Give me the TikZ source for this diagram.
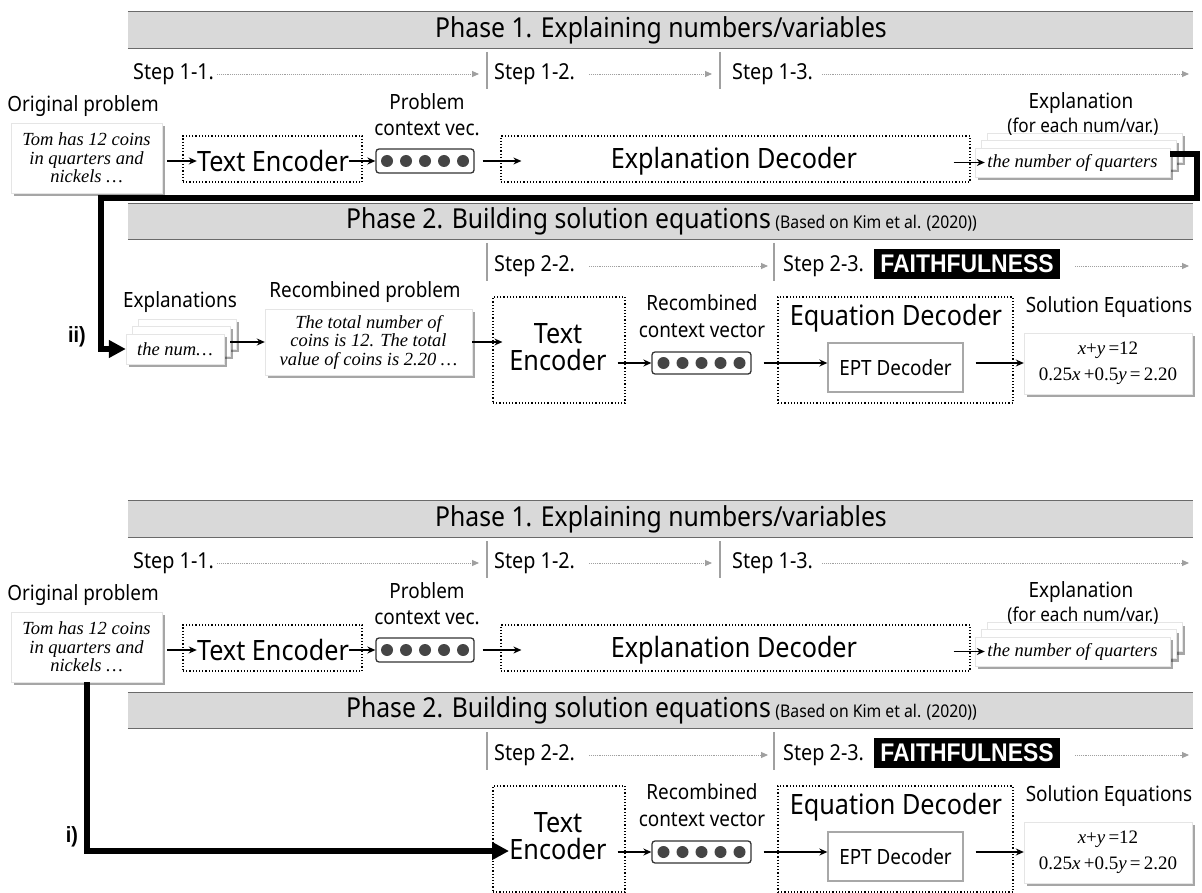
\documentclass[tikz,border=0pt]{standalone}
\usepackage{fontspec}
\setmainfont{Noto Sans}[FakeStretch=0.9]
\newfontfamily\tnr{Liberation Serif}
\newfontfamily\boldsans{Liberation Sans}[FakeStretch=0.9]
\usetikzlibrary{arrows.meta,shadows,calc}
\definecolor{barfill}{HTML}{D9D9D9}
\definecolor{barline}{HTML}{6A6A6A}
\definecolor{stepgray}{HTML}{A0A0A0}
\definecolor{dotdark}{HTML}{454545}
\definecolor{eptgray}{HTML}{A8A8A8}

\tikzset{
  fs/.style 2 args={font=\fontsize{#1}{#2}\selectfont},
  bar/.style={fill=barfill, minimum width=1065pt, minimum height=36pt, inner sep=0pt},
  barrule/.style={draw=barline, line width=1.3pt},
  lbl/.style={inner sep=0pt, fs={21}{26}, align=center},
  big/.style={inner sep=0pt, fs={28}{27}, align=center},
  stepl/.style={inner sep=0pt, anchor=west, fs={22}{24}},
  steparr/.style={stepgray, densely dotted, line width=0.9pt, -{Triangle[length=7pt,width=6pt]}},
  stepbar/.style={stepgray, line width=1.2pt},
  dotbox/.style={draw, dotted, line width=1.2pt, inner sep=0pt},
  flow/.style={line width=1.3pt, -{Stealth[length=8pt,width=7pt]}},
  paper/.style={fill=white, draw=black!10, inner sep=0pt, drop shadow={shadow xshift=3pt, shadow yshift=-3pt, opacity=0.35, fill=black}},
  vecbox/.style={draw=black!80, rounded corners=3pt, line width=1.3pt, inner sep=0pt},
  vdot/.style={circle, fill=dotdark, minimum size=12pt, inner sep=0pt},
  bigloop/.style={line width=6pt, -{Triangle[length=17pt,width=17pt]}},
  serifit/.style={font=\tnr\itshape\fontsize{18.5}{18.5}\selectfont, align=center},
  eqtext/.style={font=\tnr\fontsize{19}{26}\selectfont, align=center, inner sep=0pt},
  faith/.style={fill=black, text=white, font=\boldsans\bfseries\fontsize{25.5}{28}\selectfont, minimum width=186pt, minimum height=30pt, inner sep=0pt},
  roman/.style={font=\boldsans\bfseries\fontsize{22}{24}\selectfont, inner sep=0pt},
  eptbox/.style={draw=eptgray, line width=1.3pt, inner sep=0pt, fs={21}{24}},
}

\newcommand{\PhaseOneRow}{%
  \node[bar] (bar1) at (660.5,30) {};
  \draw[barrule] (bar1.north west) -- (bar1.north east);
  \draw[barrule] (bar1.south west) -- (bar1.south east);
  \node[inner sep=0pt, fs={27.5}{30}] (ph1) at (661,30) {Phase 1. Explaining numbers/variables};
  \node[stepl] (s11) at (133,74) {Step 1-1.};
  \node[stepl] (s12) at (494,74) {Step 1-2.};
  \node[stepl] (s13) at (732,74) {Step 1-3.};
  \draw[stepbar] (487,52) -- (487,89);
  \draw[stepbar] (720,52) -- (720,89);
  \coordinate (a11s) at (217,74); \coordinate (a11e) at (479,74);
  \coordinate (a12s) at (589,74); \coordinate (a12e) at (712,74);
  \coordinate (a13s) at (822,74); \coordinate (a13e) at (1189,74);
  \draw[steparr] (a11s) -- (a11e);
  \draw[steparr] (a12s) -- (a12e);
  \draw[steparr] (a13s) -- (a13e);
  \node[lbl] (oplab) at (83,106) {Original problem};
  \node[paper, serifit, minimum width=151pt, minimum height=70pt] (orig) at (86.5,158) {Tom has 12 coins\\in quarters and\\nickels …};
  \node[dotbox, minimum width=179pt, minimum height=46pt] (te1) at (272.5,159) {};
  \node[big] (te1t) at (273,161) {Text Encoder};
  \draw[flow] ($(orig.east |- te1t.west)+(5,0)$) -- (te1t.west);
  \node[vecbox, minimum width=98pt, minimum height=24pt] (vec1) at (425,161) {};
  \foreach \i [count=\k] in {-2,...,2} \node[vdot] (vec1d\k) at ($(vec1)+(\i*19,0)$) {};
  \node[lbl, fs={21}{26}] (pclab) at (427,115) {Problem\\context vec.};
  \draw[flow] (te1t.east) -- (vec1.west);
  \node[dotbox, minimum width=469pt, minimum height=46pt] (ed1) at (735.5,159) {};
  \node[big] (ed1t) at (734,161) {Explanation Decoder};
  \draw[flow] ($(vec1.east)+(8,0)$) -- ($(vec1.east -| ed1.west)+(21,0)$);
  \node[paper, minimum width=195pt, minimum height=29pt] (exback) at (1084.5,148) {};
  \node[paper, minimum width=195pt, minimum height=29pt] (exmid) at (1078.5,155) {};
  \node[paper, serifit, minimum width=195pt, minimum height=29pt] (exfront) at (1072.5,162.5) {the number of quarters};
  \node[lbl] (explab) at (1081,103) {Explanation};
  \node[inner sep=0pt, fs={19}{21}] (explab2) at (1083,127) {(for each num/var.)};
  \draw[flow] ($(ed1.east |- exfront.west)+(-17,0)$) -- ($(exfront.west)+(10,0)$);
}

\newcommand{\PhaseTwoRow}{%
  \node[bar, minimum height=35pt] (bar2) at (660.5,221.5) {};
  \draw[barrule] (bar2.north west) -- (bar2.north east);
  \draw[barrule] (bar2.south west) -- (bar2.south east);
  \node[inner sep=0pt] (ph2) at (661.5,221) {\fontsize{27.5}{30}\selectfont Phase 2. Building solution equations\,\fontsize{17.5}{20}\selectfont(Based on Kim et al. (2020))};
  \draw[stepbar] (487,243) -- (487,281);
  \draw[stepbar] (774,243) -- (774,281);
  \node[stepl] (s22) at (494,266) {Step 2-2.};
  \node[stepl] (s23) at (783,266) {Step 2-3.};
  \node[faith] (faith) at (967,264) {FAITHFULNESS};
  \coordinate (a22s) at (589,266); \coordinate (a22e) at (768,266);
  \coordinate (a23s) at (1075,266); \coordinate (a23e) at (1189,266);
  \draw[steparr] (a22s) -- (a22e);
  \draw[steparr] (a23s) -- (a23e);
  \node[dotbox, minimum width=132pt, minimum height=106pt] (te2) at (559,350) {};
  \node[big] (te2t) at (558,347) {Text\\Encoder};
  \node[vecbox, minimum width=99pt, minimum height=22pt] (vec2) at (701.5,363) {};
  \foreach \i [count=\k] in {-2,...,2} \node[vdot] (vec2d\k) at ($(vec2)+(\i*19,0)$) {};
  \node[lbl, fs={21}{27}] (rclab) at (702,316.5) {Recombined\\context vector};
  \node[dotbox, minimum width=235pt, minimum height=106pt] (eqd) at (895.5,350) {};
  \node[big] (eqdt) at (896,318) {Equation Decoder};
  \node[eptbox, minimum width=135pt, minimum height=49pt] (ept) at (895.5,367.5) {EPT Decoder};
  \node[lbl] (sollab) at (1109,307) {Solution Equations};
  \node[paper, eqtext, minimum width=168pt, minimum height=61pt] (sol) at (1108,363.5) {{\itshape x}+{\itshape y}\,=12\\0.25{\itshape x}\,+0.5{\itshape y}\,=\,2.20};
  \draw[flow] ($(te2.east |- vec2.west)+(-8,0)$) -- (vec2.west);
  \draw[flow] ($(vec2.east)+(12,0)$) -- (vec2.east -| ept.west);
  \draw[flow] ($(vec2.east -| ept.east)+(12,0)$) -- (vec2.east -| sol.west);
}

\begin{document}
\begin{tikzpicture}[x=1pt,y=-1pt]
  \fill[white] (0,0) rectangle (1202,893);
  \useasboundingbox (0,0) rectangle (1202,893);
  % ---------- upper diagram: route ii) ----------
  \begin{scope}[name prefix=t-]
    \PhaseOneRow
    \coordinate (L1) at (1197,198);
    \coordinate (L2) at (101,198);
    \PhaseTwoRow
    \node[paper, minimum width=98pt, minimum height=30pt] (xb) at (187,334) {};
    \node[paper, minimum width=98pt, minimum height=30pt] (xm) at (181,341) {};
    \node[paper, serifit, minimum width=98pt, minimum height=30pt] (xf) at (175,349) {the num…};
    \node[lbl] (xlab) at (180,302) {Explanations};
    \node[lbl] (rplab) at (365,292) {Recombined problem};
    \node[paper, serifit, minimum width=207pt, minimum height=66pt] (recomb) at (368.5,342) {The total number of\\coins is 12. The total\\value of coins is 2.20 …};
    \draw[flow] (recomb.west -| xm.east) -- (recomb.west);
    \draw[flow] (recomb.east) -- ($(recomb.east -| te2.west)+(10,0)$);
    \node[roman] (ii) at (77,337) {ii)};
    \draw[bigloop] ($(exfront.east)+(0,-8.5)$) -| (L1) -- (L2) |- (xf.west);
  \end{scope}
  % ---------- lower diagram: route i) ----------
  \begin{scope}[name prefix=b-, yshift=-489pt]
    \PhaseOneRow
    \PhaseTwoRow
    \node[roman] (i) at (72,348) {i)};
    \coordinate (itip) at (509,362);
    \draw[bigloop] (orig.south) |- (itip);
  \end{scope}
\end{tikzpicture}
\end{document}
